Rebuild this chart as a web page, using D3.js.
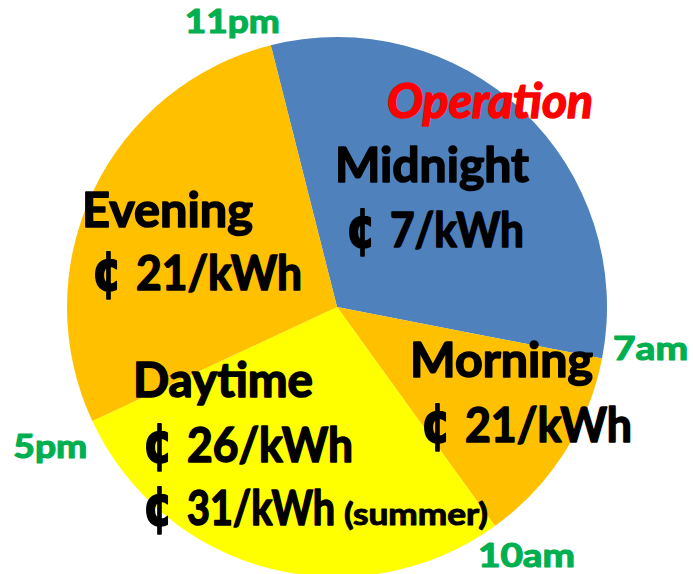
<!DOCTYPE html>
<html>
<head>
<meta charset="utf-8">
<script src="https://cdn.jsdelivr.net/npm/d3@7"></script>
<style>
  body { margin: 0; background: #fff; }
  svg { display: block; }
  text { font-family: Lato, "Noto Sans", sans-serif; font-weight: 700; stroke-linejoin: round; }
</style>
</head>
<body>
<svg id="chart" width="694" height="574"></svg>
<script>
// time-of-use periods (slice share)
var periods = ['Midnight', 'Morning', 'Daytime', 'Evening'];
var shares = [8, 3, 7, 7];
var prices = ['7/kWh', '21/kWh', '26/kWh', '21/kWh'];
var summerPrice = '31/kWh';
var summerNote = '(summer)';
var boundaries = ['11pm', '7am', '10am', '5pm'];
var colors = ['#4F81BD', '#FFC000', '#FFFF00', '#FFC000'];
var cent = '\u00A2';

var svg = d3.select('#chart');
var cx = 337, cy = 307, radius = 270;
var start = -14.2 * Math.PI / 180;

var pie = d3.pie()
    .sort(null)
    .startAngle(start)
    .endAngle(start + 2 * Math.PI);

var arc = d3.arc()
    .innerRadius(0)
    .outerRadius(radius);

var arcs = pie(shares);

var g = svg.append('g')
    .attr('transform', 'translate(' + cx + ',' + cy + ')');

g.selectAll('path')
    .data(arcs)
    .enter()
    .append('path')
        .attr('d', arc)
        .style('fill', function(d, i) { return colors[i]; });

// label boxes, in the order of periods
var nameBox = [
    {x: 335, y: 182, w: 194},
    {x: 410, y: 377, w: 183},
    {x: 133, y: 397, w: 180},
    {x: 82,  y: 227, w: 171}
];
var priceBox = [
    {x: 346, y: 247, w: 178},
    {x: 421, y: 442, w: 211},
    {x: 143, y: 462, w: 210},
    {x: 92,  y: 290, w: 210}
];

svg.selectAll('.name')
    .data(periods)
    .enter()
    .append('text')
        .attr('class', 'name')
        .attr('x', function(d, i) { return nameBox[i].x; })
        .attr('y', function(d, i) { return nameBox[i].y; })
        .attr('textLength', function(d, i) { return nameBox[i].w; })
        .attr('lengthAdjust', 'spacingAndGlyphs')
        .style('font-size', '48px')
        .style('fill', '#000')
        .style('stroke', '#000')
        .style('stroke-width', 1.6)
        .text(function(d) { return d; });

function priceLine(x, y, w, value) {
    var t = svg.append('text')
        .attr('x', x)
        .attr('y', y)
        .style('font-size', '48px')
        .style('fill', '#000')
        .style('stroke', '#000')
        .style('stroke-width', 1.6);
    t.append('tspan')
        .attr('textLength', 30)
        .attr('lengthAdjust', 'spacingAndGlyphs')
        .style('font-size', '56px')
        .style('font-family', '"DejaVu Sans"')
        .style('font-weight', 'bold')
        .text(cent);
    t.append('tspan')
        .attr('x', x + 44)
        .attr('textLength', w - 44)
        .attr('lengthAdjust', 'spacingAndGlyphs')
        .text(value);
    return t;
}

prices.forEach(function(p, i) {
    priceLine(priceBox[i].x, priceBox[i].y, priceBox[i].w, p);
});

// summer rate under the daytime price, with its small note
priceLine(143, 525, 192, summerPrice)
    .append('tspan')
        .attr('x', 344)
        .attr('textLength', 144)
        .attr('lengthAdjust', 'spacingAndGlyphs')
        .style('font-size', '30px')
        .style('stroke-width', 1)
        .text(summerNote);

// boundary times at the slice edges
var timePos = [
    {dx: 9,   dy: -12, anchor: 'end',   w: 95},
    {dx: 11,  dy: 1,   anchor: 'start', w: 75},
    {dx: -17, dy: 41,  anchor: 'start', w: 97},
    {dx: -5,  dy: 37,  anchor: 'end',   w: 74}
];

svg.selectAll('.time')
    .data(arcs)
    .enter()
    .append('text')
        .attr('class', 'time')
        .attr('x', function(d, i) { return cx + radius * Math.sin(d.startAngle) + timePos[i].dx; })
        .attr('y', function(d, i) { return cy - radius * Math.cos(d.startAngle) + timePos[i].dy; })
        .attr('text-anchor', function(d, i) { return timePos[i].anchor; })
        .attr('textLength', function(d, i) { return timePos[i].w; })
        .attr('lengthAdjust', 'spacingAndGlyphs')
        .style('font-size', '32px')
        .style('fill', '#00B050')
        .style('stroke', '#00B050')
        .style('stroke-width', 1.2)
        .text(function(d, i) { return boundaries[i]; });

svg.append('text')
    .attr('x', 387)
    .attr('y', 118)
    .attr('textLength', 206)
    .attr('lengthAdjust', 'spacingAndGlyphs')
    .style('font-size', '48px')
    .style('font-style', 'italic')
    .style('fill', '#FF0000')
    .style('stroke', '#FF0000')
    .style('stroke-width', 1.6)
    .text('Operation');
</script>
</body>
</html>
